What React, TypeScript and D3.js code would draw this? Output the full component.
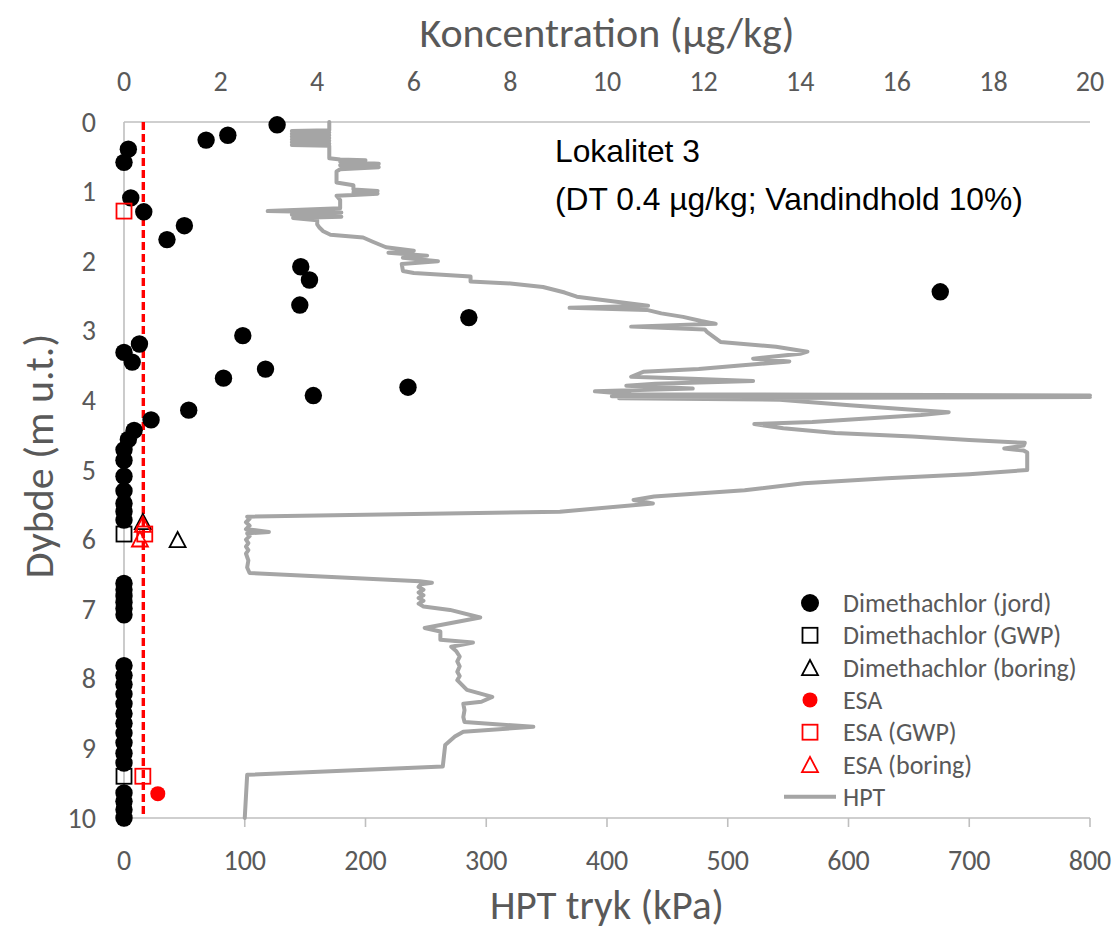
import React from "react";
import * as d3 from "d3";

// ---------- data ----------
const depthTicks = [0, 1, 2, 3, 4, 5, 6, 7, 8, 9, 10];
const concTicks = [0, 2, 4, 6, 8, 10, 12, 14, 16, 18, 20];
const kpaTicks = [0, 100, 200, 300, 400, 500, 600, 700, 800];

// [concentration µg/kg, depth m]
const dimJord: [number, number][] = [
  [3.17, 0.04], [2.15, 0.19], [1.7, 0.26], [0.09, 0.39], [0.0, 0.58],
  [0.14, 1.09], [0.41, 1.29], [1.25, 1.49], [0.89, 1.69], [3.66, 2.08],
  [3.84, 2.27], [16.9, 2.44], [3.64, 2.63], [7.14, 2.81], [2.46, 3.07],
  [0.32, 3.19], [0.0, 3.31], [0.17, 3.45], [2.93, 3.55], [2.06, 3.68],
  [5.88, 3.81], [3.92, 3.93], [1.34, 4.14], [0.56, 4.28], [0.21, 4.43],
  [0.09, 4.56], [0, 4.71], [0, 4.86], [0, 5.09], [0, 5.3], [0, 5.48],
  [0, 5.6], [0, 5.72],
  [0, 6.63], [0, 6.72], [0, 6.81], [0, 6.9], [0, 6.99], [0, 7.08],
  [0, 7.81], [0, 7.95], [0, 8.08], [0, 8.22], [0, 8.36], [0, 8.5],
  [0, 8.64], [0, 8.78], [0, 8.92], [0, 9.07], [0, 9.21],
  [0, 9.64], [0, 9.76], [0, 9.88], [0, 10.0],
];
const dimGWP: [number, number][] = [[0, 5.92], [0, 9.4]];
const dimBoring: [number, number][] = [[0.39, 5.74], [1.11, 6.0]];
const esa: [number, number][] = [[0.7, 9.65]];
const esaGWP: [number, number][] = [[0, 1.28], [0.43, 5.92], [0.39, 9.4]];
const esaBoring: [number, number][] = [[0.39, 5.78], [0.33, 5.99]];
const dtValue = 0.4;

// [depth m, HPT kPa]
const hpt: [number, number][] = [
  [0.0, 170], [0.12, 170], [0.13, 139], [0.15, 170], [0.17, 139], [0.19, 170],
  [0.21, 139], [0.23, 170], [0.25, 139], [0.27, 170], [0.29, 139], [0.31, 170],
  [0.33, 139], [0.34, 170], [0.52, 170], [0.54, 179], [0.55, 200], [0.57, 179],
  [0.6, 211], [0.62, 179], [0.65, 211], [0.68, 179], [0.71, 176], [0.87, 176],
  [0.91, 190], [0.97, 190], [0.99, 210], [1.01, 190], [1.03, 210], [1.05, 190],
  [1.06, 176], [1.12, 179], [1.24, 179], [1.28, 119], [1.3, 180], [1.33, 139],
  [1.36, 180], [1.38, 140], [1.41, 160], [1.47, 160], [1.52, 162], [1.57, 165],
  [1.62, 171], [1.66, 198], [1.72, 206], [1.8, 217], [1.85, 240], [1.88, 219],
  [1.92, 251], [1.95, 231], [2.0, 260], [2.04, 230], [2.14, 231], [2.17, 240],
  [2.22, 287], [2.29, 287], [2.32, 320], [2.37, 347], [2.45, 365], [2.51, 375],
  [2.6, 416], [2.64, 434], [2.67, 369], [2.7, 433], [2.75, 445], [2.8, 463],
  [2.86, 478], [2.9, 490], [2.94, 420], [2.98, 481], [3.02, 483], [3.16, 494],
  [3.23, 540], [3.3, 566], [3.33, 560], [3.4, 521], [3.44, 551], [3.5, 510],
  [3.55, 476], [3.59, 430], [3.66, 420], [3.69, 470], [3.72, 521], [3.76, 440],
  [3.79, 416], [3.83, 471], [3.87, 390], [3.91, 420], [3.93, 800], [3.94, 404],
  [3.95, 800], [3.97, 410], [3.99, 543], [4.07, 601], [4.13, 650], [4.17, 683],
  [4.21, 660], [4.26, 615], [4.31, 570], [4.34, 522], [4.4, 546], [4.47, 589],
  [4.52, 653], [4.57, 700], [4.61, 746], [4.65, 745], [4.69, 729], [4.72, 745],
  [4.75, 748], [5.0, 748], [5.06, 700], [5.12, 632], [5.19, 563], [5.29, 514],
  [5.38, 439], [5.43, 422], [5.48, 438], [5.6, 361], [5.67, 102], [5.7, 104],
  [5.75, 101], [5.8, 104], [5.85, 101], [5.89, 120], [5.91, 102], [5.95, 104],
  [6.0, 101], [6.05, 103], [6.1, 101], [6.15, 103], [6.2, 101], [6.3, 103],
  [6.4, 102], [6.48, 104], [6.6, 245], [6.62, 255], [6.64, 246], [6.68, 244],
  [6.72, 248], [6.76, 244], [6.8, 248], [6.84, 244], [6.88, 248], [6.92, 244],
  [6.96, 248], [7.01, 270], [7.12, 295], [7.27, 249], [7.32, 262], [7.44, 262],
  [7.48, 289], [7.54, 271], [7.6, 275], [7.68, 278], [7.75, 276], [7.82, 278],
  [7.9, 276], [7.96, 278], [8.02, 276], [8.16, 284], [8.26, 305], [8.33, 296],
  [8.36, 281], [8.45, 282], [8.55, 281], [8.62, 282], [8.69, 339], [8.76, 281],
  [8.83, 274], [8.95, 266], [9.26, 264], [9.38, 102], [10.0, 100],
];

const legendItems = [
  "Dimethachlor (jord)",
  "Dimethachlor (GWP)",
  "Dimethachlor (boring)",
  "ESA",
  "ESA (GWP)",
  "ESA (boring)",
  "HPT",
];

// ---------- layout ----------
const W = 1116;
const H = 932;
const X0 = 124;
const X1 = 1090;
const Y0 = 122;
const Y1 = 818;
const TEXT = "#595959";
const AXIS = "#BFBFBF";
const HPTC = "#A5A5A5";
const RED = "#FF0000";
const FONT = "Carlito, Lato, sans-serif";

function tri(cx: number, cy: number, s: number) {
  const h = s * 0.95;
  return `M${cx},${cy - h / 2}L${cx + s / 2},${cy + h / 2}L${cx - s / 2},${cy + h / 2}Z`;
}

export default function App() {
  const y = d3.scaleLinear().domain([0, 10]).range([Y0, Y1]);
  const xc = d3.scaleLinear().domain([0, 20]).range([X0, X1]);
  const xk = d3.scaleLinear().domain([0, 800]).range([X0, X1]);

  const line = d3
    .line<[number, number]>()
    .x((d) => xk(d[1]))
    .y((d) => y(d[0]));

  const legX = 810;
  const legTextX = 843;
  const legY0 = 603;
  const legDy = 32.3;

  return (
    <svg
      width={W}
      height={H}
      style={{ position: "absolute", left: 0, top: 0, background: "#fff" }}
    >
      <rect x={0} y={0} width={W} height={H} fill="#fff" />
      {/* axes lines */}
      <line x1={X0} x2={X1} y1={Y0} y2={Y0} stroke={AXIS} strokeWidth={1.6} />
      <line x1={X0} x2={X0} y1={Y0} y2={Y1} stroke={AXIS} strokeWidth={1.6} />
      <line x1={X0} x2={X1} y1={Y1} y2={Y1} stroke={AXIS} strokeWidth={1.6} />
      {kpaTicks.map((t) => (
        <line key={"kt" + t} x1={xk(t)} x2={xk(t)} y1={Y1} y2={Y1 + 9} stroke={AXIS} strokeWidth={1.6} />
      ))}

      {/* tick labels */}
      {concTicks.map((t) => (
        <text key={"ct" + t} x={xc(t)} y={81} textAnchor="middle" dominantBaseline="central"
          fontFamily={FONT} fontSize={28} fill={TEXT}>{t}</text>
      ))}
      {kpaTicks.map((t) => (
        <text key={"kl" + t} x={xk(t)} y={860} textAnchor="middle" dominantBaseline="central"
          fontFamily={FONT} fontSize={28} fill={TEXT}>{t}</text>
      ))}
      {depthTicks.map((t) => (
        <text key={"dl" + t} x={96} y={y(t)} textAnchor="end" dominantBaseline="central"
          fontFamily={FONT} fontSize={28} fill={TEXT}>{t}</text>
      ))}

      {/* axis titles */}
      <text x={(X0 + X1) / 2} y={32} textAnchor="middle" dominantBaseline="central"
        fontFamily={FONT} fontSize={42} fill={TEXT}>Koncentration (µg/kg)</text>
      <text x={(X0 + X1) / 2} y={905} textAnchor="middle" dominantBaseline="central"
        fontFamily={FONT} fontSize={41} fill={TEXT}>HPT tryk (kPa)</text>
      <text transform={`translate(38,456) rotate(-90)`} textAnchor="middle" dominantBaseline="central"
        fontFamily={FONT} fontSize={42} fill={TEXT}>Dybde (m u.t.)</text>

      {/* annotation */}
      <text x={555} y={162} fontFamily="Liberation Sans, Arial, sans-serif" fontSize={31.8} fill="#000">Lokalitet 3</text>
      <text x={555} y={210} fontFamily="Liberation Sans, Arial, sans-serif" fontSize={31.8} fill="#000">(DT 0.4 µg/kg; Vandindhold 10%)</text>

      {/* HPT line */}
      <path d={line(hpt) || ""} fill="none" stroke={HPTC} strokeWidth={4}
        strokeLinejoin="round" strokeLinecap="round" />

      {/* DT dashed line */}
      <line x1={xc(dtValue)} x2={xc(dtValue)} y1={y(0)} y2={y(10)} stroke={RED}
        strokeWidth={3.4} strokeDasharray="8 4" />

      {/* markers */}
      {dimJord.map((d, i) => (
        <circle key={"j" + i} cx={xc(d[0])} cy={y(d[1])} r={8.7} fill="#000" />
      ))}
      {dimGWP.map((d, i) => (
        <rect key={"g" + i} x={xc(d[0]) - 7.5} y={y(d[1]) - 7.5} width={15} height={15}
          fill="none" stroke="#000" strokeWidth={1.8} />
      ))}
      {dimBoring.map((d, i) => (
        <path key={"b" + i} d={tri(xc(d[0]), y(d[1]), 16)} fill="none" stroke="#000" strokeWidth={1.8} />
      ))}
      {esa.map((d, i) => (
        <circle key={"e" + i} cx={xc(d[0])} cy={y(d[1])} r={7.5} fill={RED} />
      ))}
      {esaGWP.map((d, i) => (
        <rect key={"eg" + i} x={xc(d[0]) - 7.5} y={y(d[1]) - 7.5} width={15} height={15}
          fill="none" stroke={RED} strokeWidth={1.8} />
      ))}
      {esaBoring.map((d, i) => (
        <path key={"eb" + i} d={tri(xc(d[0]), y(d[1]), 16)} fill="none" stroke={RED} strokeWidth={1.8} />
      ))}

      {/* legend */}
      <g>
        <circle cx={legX} cy={legY0} r={9} fill="#000" />
        <rect x={legX - 7.5} y={legY0 + legDy - 7.5} width={15} height={15} fill="none" stroke="#000" strokeWidth={1.8} />
        <path d={tri(legX, legY0 + 2 * legDy, 16)} fill="none" stroke="#000" strokeWidth={1.8} />
        <circle cx={legX} cy={legY0 + 3 * legDy} r={7.5} fill={RED} />
        <rect x={legX - 7.5} y={legY0 + 4 * legDy - 7.5} width={15} height={15} fill="none" stroke={RED} strokeWidth={1.8} />
        <path d={tri(legX, legY0 + 5 * legDy, 16)} fill="none" stroke={RED} strokeWidth={1.8} />
        <line x1={784} x2={836} y1={legY0 + 6 * legDy} y2={legY0 + 6 * legDy} stroke={HPTC} strokeWidth={4} />
        {legendItems.map((s, i) => (
          <text key={"lt" + i} x={legTextX} y={legY0 + i * legDy} dominantBaseline="central"
            fontFamily={FONT} fontSize={26} fill={TEXT}>{s}</text>
        ))}
      </g>
    </svg>
  );
}
